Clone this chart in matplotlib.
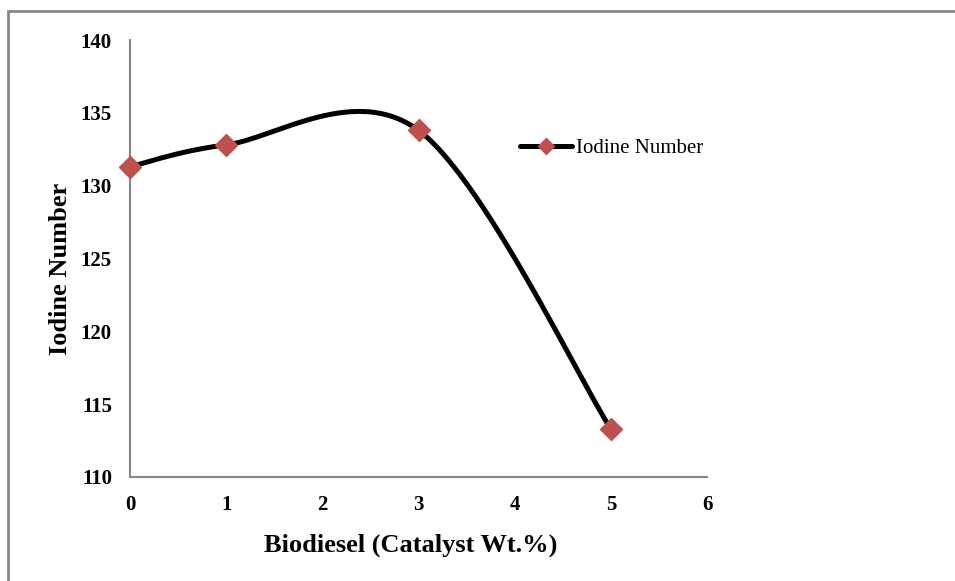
import numpy as np
import matplotlib
matplotlib.use("Agg")
import matplotlib.pyplot as plt
from matplotlib.patches import Rectangle
from matplotlib.lines import Line2D

catalyst = [0, 1, 3, 5]
iodine = [131.3, 132.8, 133.8, 113.3]
series_name = "Iodine Number"
x_ticks = [0, 1, 2, 3, 4, 5, 6]
y_ticks = [110, 115, 120, 125, 130, 135, 140]


def excel_smooth(xs, ys, n=60):
    xs = np.asarray(xs, float)
    ys = np.asarray(ys, float)
    px = np.concatenate([[xs[0]], xs, [xs[-1]]])
    py = np.concatenate([[ys[0]], ys, [ys[-1]]])
    outx, outy = [], []
    t = np.linspace(0, 1, n)
    for i in range(1, len(px) - 2):
        p0 = np.array([px[i], py[i]])
        p3 = np.array([px[i + 1], py[i + 1]])
        c1 = p0 + (np.array([px[i + 1], py[i + 1]]) - np.array([px[i - 1], py[i - 1]])) / 6
        c2 = p3 - (np.array([px[i + 2], py[i + 2]]) - np.array([px[i], py[i]])) / 6
        b = ((1 - t) ** 3)[:, None] * p0 + (3 * (1 - t) ** 2 * t)[:, None] * c1 \
            + (3 * (1 - t) * t ** 2)[:, None] * c2 + (t ** 3)[:, None] * p3
        outx.extend(b[:, 0])
        outy.extend(b[:, 1])
    return np.array(outx), np.array(outy)


plt.rcParams['font.family'] = ['Liberation Serif', 'DejaVu Serif']

fig = plt.figure(figsize=(9.55, 5.81), dpi=100)
fig.patches.append(Rectangle((8 / 955, -0.1), 1.2, (581 - 11) / 581 + 0.1,
                             transform=fig.transFigure, fill=False,
                             edgecolor='#868686', linewidth=2))

ax = fig.add_axes([130 / 955, 1 - 477 / 581, (707 - 130) / 955, (477 - 40) / 581])

sx, sy = excel_smooth(catalyst, iodine)
ax.plot(sx, sy, color='black', lw=3.6, solid_capstyle='round', zorder=2, clip_on=False)
ax.plot(catalyst, iodine, linestyle='none', marker='D', ms=11,
        color='#C0504D', zorder=3, clip_on=False)

ax.set_xlim(0, 6)
ax.set_ylim(110, 140)
ax.set_xticks(x_ticks)
ax.set_yticks(y_ticks)
ax.tick_params(axis='x', length=0, labelsize=15, pad=13)
ax.tick_params(axis='y', length=0, labelsize=15, pad=13)
for lab in ax.get_xticklabels() + ax.get_yticklabels():
    lab.set_fontweight('bold')
for s in ['top', 'right']:
    ax.spines[s].set_visible(False)
for s in ['left', 'bottom']:
    ax.spines[s].set_color('#868686')
    ax.spines[s].set_linewidth(1.5)

ax.set_xlabel('Biodiesel (Catalyst Wt.%)', fontsize=19, fontweight='bold', va='center')
ax.set_ylabel('Iodine Number', fontsize=19, fontweight='bold', va='center')
ax.xaxis.set_label_coords((411 - 130) / 577, (477 - 545) / 437)
ax.yaxis.set_label_coords((60 - 130) / 577, (477 - 268.5) / 437)

h = Line2D([0], [0], color='black', lw=3.6, marker='D', ms=8,
           markerfacecolor='#C0504D', markeredgecolor='#C0504D',
           solid_capstyle='round')
ax.legend([h], [series_name], loc='center left',
          bbox_to_anchor=((520 - 130) / 577, (477 - 148) / 437),
          frameon=False, fontsize=15, handlelength=2.5, handletextpad=0.2,
          borderaxespad=0, borderpad=0)

fig.savefig('out.png', dpi=100)
